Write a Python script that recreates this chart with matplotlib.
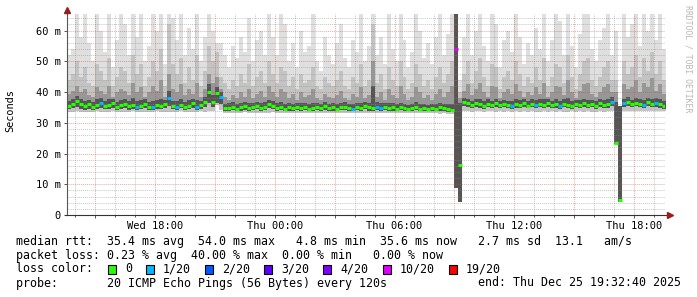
import numpy as np
import matplotlib
matplotlib.use('Agg')
import matplotlib.pyplot as plt
import matplotlib.dates as mdates
from matplotlib.ticker import MultipleLocator, FuncFormatter
from matplotlib.patches import Rectangle

plt.rcParams['font.family'] = ['DejaVu Sans Mono']

W, H = 697, 297

# time axis: 12 minute columns starting Wed 24 Dec 13:36
t_start = np.datetime64('2025-12-24T13:36:00')
t_end = np.datetime64('2025-12-25T19:32:40')
step_min = 12

# median rtt per column (ms)
median = [
    35.6, 36.2, 37.0, 36.1, 35.4, 36.0, 35.2, 35.9, 36.3, 35.5,
    35.8, 36.4, 35.3, 35.7, 36.0, 35.4, 35.9, 35.2, 35.6, 36.1,
    35.3, 35.0, 35.8, 35.4, 36.2, 38.0, 35.5, 35.1, 35.9, 35.3,
    35.6, 36.3, 35.0, 35.7, 36.8, 40.1, 36.8, 39.6, 38.5, 34.8,
    34.9, 35.2, 34.6, 35.0, 35.4, 34.8, 35.1, 35.5, 34.9, 35.3,
    36.0, 35.6, 34.9, 35.2, 34.6, 35.0, 34.7, 35.3, 34.8, 35.1,
    34.6, 34.9, 35.2, 34.7, 35.4, 34.8, 35.0, 34.5, 35.1, 35.3,
    34.9, 34.6, 35.2, 34.8, 35.5, 35.0, 34.7, 35.2, 34.9, 35.1,
    34.7, 35.0, 34.6, 35.1, 34.8, 34.5, 34.9, 35.2, 34.6, 34.8,
    34.5, 34.9, 34.6, 35.0, 34.7, 34.4, 34.3, 54.0, 16.3, 36.8,
    36.3, 35.8, 36.5, 36.0, 35.6, 36.2, 35.7, 36.4, 35.9, 36.1,
    35.7, 35.5, 36.0, 35.8, 36.3, 35.6, 36.1, 35.9, 36.2, 35.8,
    36.4, 35.7, 36.0, 35.6, 36.2, 35.9, 35.5, 36.1, 35.8, 36.3,
    35.9, 36.1, 35.6, 36.4, 35.8, 36.0, 36.8, 23.4, 4.9, 36.3,
    36.9, 36.0, 36.6, 36.2, 35.9, 36.7, 36.1, 36.5, 36.0, 35.6,
]

# smoke: lowest ping per column
ping_min = [
    33.6, 33.5, 33.7, 33.6, 33.4, 33.6, 33.5, 33.7, 33.6, 33.5,
    33.6, 33.7, 33.4, 33.6, 33.5, 33.6, 33.7, 33.5, 33.6, 33.4,
    33.6, 33.5, 33.7, 33.6, 33.5, 33.6, 33.4, 33.6, 33.7, 33.5,
    33.6, 33.5, 33.6, 33.7, 33.5, 33.8, 34.0, 35.8, 34.2, 33.2,
    33.3, 33.1, 33.3, 33.2, 33.4, 33.2, 33.3, 33.1, 33.2, 33.3,
    33.2, 33.4, 33.2, 33.1, 33.3, 33.2, 33.3, 33.2, 33.1, 33.3,
    33.2, 33.2, 33.3, 33.1, 33.2, 33.3, 33.2, 33.1, 33.3, 33.2,
    33.2, 33.3, 33.1, 33.2, 33.3, 33.2, 33.2, 33.1, 33.3, 33.2,
    33.1, 33.2, 33.3, 33.2, 33.1, 33.2, 33.2, 33.1, 33.3, 33.2,
    33.1, 33.2, 33.2, 33.0, 33.1, 33.0, 32.9, 8.8, 4.2, 33.8,
    33.7, 33.6, 33.8, 33.7, 33.6, 33.7, 33.8, 33.6, 33.7, 33.6,
    33.7, 33.5, 33.7, 33.6, 33.8, 33.6, 33.7, 33.5, 33.6, 33.7,
    33.6, 33.8, 33.6, 33.7, 33.5, 33.6, 33.7, 33.6, 33.8, 33.6,
    33.7, 33.5, 33.6, 33.7, 33.6, 33.8, 33.7, 23.0, 4.3, 33.9,
    33.8, 34.0, 33.8, 33.9, 33.7, 33.9, 33.8, 34.0, 33.8, 33.7,
]

# smoke: lower quartile-ish ping (bottom of the dark bands)
ping_low = [
    34.5, 34.7, 35.0, 34.6, 34.3, 34.6, 34.2, 34.6, 34.8, 34.4,
    34.6, 34.9, 34.3, 34.5, 34.7, 34.3, 34.6, 34.2, 34.5, 34.7,
    34.3, 34.2, 34.6, 34.4, 34.8, 35.5, 34.4, 34.2, 34.7, 34.3,
    34.5, 34.8, 34.2, 34.6, 35.2, 36.5, 35.2, 36.5, 36.0, 34.0,
    34.0, 34.2, 33.8, 34.0, 34.3, 33.9, 34.1, 34.4, 34.0, 34.2,
    34.8, 34.5, 34.0, 34.2, 33.8, 34.0, 33.9, 34.3, 33.9, 34.1,
    33.8, 34.0, 34.2, 33.8, 34.3, 33.9, 34.0, 33.7, 34.1, 34.2,
    34.0, 33.8, 34.2, 33.9, 34.4, 34.0, 33.8, 34.2, 34.0, 34.1,
    33.8, 34.0, 33.8, 34.1, 33.9, 33.7, 33.9, 34.1, 33.8, 33.9,
    33.7, 33.9, 33.8, 34.0, 33.8, 33.6, 33.5, 8.8, 4.2, 35.4,
    35.1, 34.8, 35.2, 34.9, 34.6, 35.0, 34.7, 35.1, 34.8, 35.0,
    34.7, 34.6, 34.9, 34.8, 35.1, 34.7, 35.0, 34.8, 35.1, 34.8,
    35.2, 34.7, 34.9, 34.6, 35.1, 34.8, 34.6, 35.0, 34.8, 35.1,
    34.8, 35.0, 34.6, 35.2, 34.8, 34.9, 35.4, 23.0, 4.3, 35.2,
    35.6, 35.0, 35.4, 35.1, 34.9, 35.5, 35.0, 35.3, 34.9, 34.6,
]

ping_p60 = [
    37.2, 37.8, 38.6, 37.6, 37.0, 37.5, 36.8, 37.6, 38.0, 37.1,
    37.6, 37.9, 36.9, 37.4, 37.7, 37.0, 38.2, 37.0, 37.4, 37.6,
    36.9, 37.0, 37.4, 37.8, 37.5, 40.5, 37.2, 37.0, 37.9, 36.9,
    37.4, 37.8, 37.3, 37.2, 38.4, 42.5, 39.0, 41.5, 40.0, 36.2,
    36.3, 36.7, 36.0, 36.5, 36.8, 36.6, 36.4, 36.9, 36.5, 36.7,
    37.5, 37.2, 36.3, 36.8, 36.2, 36.3, 36.2, 36.6, 36.4, 36.5,
    36.0, 36.6, 36.5, 36.0, 36.8, 36.2, 36.3, 36.0, 36.6, 36.7,
    36.2, 36.2, 36.6, 36.5, 36.8, 36.3, 42.0, 36.8, 36.5, 36.4,
    36.3, 36.4, 36.0, 36.6, 36.1, 35.9, 36.2, 36.7, 36.0, 36.1,
    35.9, 36.2, 36.0, 36.5, 36.1, 36.0, 36.2, 66.0, 36.5, 38.2,
    37.9, 37.2, 37.9, 37.6, 37.1, 37.6, 37.2, 37.9, 37.2, 37.5,
    37.2, 37.0, 37.6, 37.3, 37.7, 37.0, 37.6, 37.4, 37.6, 37.6,
    37.8, 37.1, 37.6, 37.2, 37.6, 38.0, 37.0, 37.5, 37.3, 37.9,
    37.5, 37.5, 37.0, 37.9, 37.3, 37.6, 38.4, 36.8, 35.5, 37.9,
    38.4, 37.5, 38.1, 37.6, 37.4, 38.2, 37.6, 38.0, 37.6, 37.1,
]

ping_p75 = [
    39.5, 40.5, 42, 40, 41, 39, 38.5, 41.5, 40.5, 39.5,
    42, 38.5, 40, 41, 40.5, 39, 43, 40, 41.5, 38.5,
    40, 42, 40.5, 44, 38.5, 46, 41, 40, 42.5, 39,
    41, 39.5, 43, 38.5, 41, 46, 43, 45, 41, 38.5,
    37.5, 39, 38, 40, 38.5, 41, 38, 39.5, 40.5, 38.5,
    42, 40, 38.5, 41, 40, 38, 39.5, 37.5, 40, 38.5,
    39, 41, 38, 37.5, 39.5, 38.5, 38, 39, 40.5, 38,
    37.5, 39.5, 38.5, 41.5, 38, 39, 50, 38.5, 40, 37.5,
    41, 39, 38, 42, 39.5, 37.5, 38.5, 41.5, 40, 38,
    39, 37.5, 39.5, 41, 38.5, 40, 42, 66, 38, 40.5,
    42.5, 39, 41, 43, 40, 38.5, 42, 41.5, 38, 40,
    41, 39.5, 42.5, 40.5, 38.5, 40, 39, 41.5, 39.5, 43,
    38.5, 40, 42, 41.5, 39, 44, 40, 38, 40.5, 42.5,
    43, 39.5, 38.5, 40, 41.5, 42.5, 40, 40, 35.5, 42.5,
    41, 41.5, 44, 40, 43, 41.5, 44.5, 40.5, 42.5, 39.5,
]

ping_p90 = [
    44, 46, 50, 45, 48, 43, 42, 49, 47, 44,
    51, 42, 45, 48, 47, 43, 52, 46, 49, 42,
    45, 50, 47, 54, 42, 62, 49, 46, 51, 43,
    48, 44, 52, 42, 47, 55, 50, 53, 45, 43,
    41, 44, 42, 46, 43, 49, 42, 45, 47, 43,
    50, 46, 43, 48, 47, 42, 45, 41, 46, 43,
    44, 48, 42, 41, 45, 43, 42, 44, 47, 42,
    41, 45, 43, 49, 42, 44, 62, 43, 46, 41,
    48, 44, 42, 50, 45, 41, 43, 49, 46, 42,
    44, 41, 45, 48, 43, 46, 50, 66, 40, 46,
    50, 43, 47, 51, 45, 42, 49, 48, 41, 45,
    47, 44, 50, 46, 42, 45, 43, 48, 44, 51,
    42, 45, 49, 48, 43, 52, 45, 41, 46, 50,
    51, 44, 42, 45, 48, 50, 44, 44, 35.5, 50,
    46, 48, 52, 45, 51, 47, 53, 46, 50, 44,
]

ping_max = [
    52, 54, 66, 58, 66, 56, 50, 66, 60, 53,
    66, 48, 57, 66, 62, 52, 66, 58, 66, 50,
    55, 66, 60, 66, 49, 66, 64, 57, 66, 52,
    61, 54, 66, 50, 58, 66, 60, 56, 56, 52,
    48, 55, 51, 58, 53, 64, 50, 57, 60, 52,
    66, 58, 52, 66, 62, 50, 56, 48, 60, 53,
    55, 66, 50, 47, 58, 52, 49, 56, 62, 51,
    48, 57, 53, 66, 50, 55, 66, 52, 58, 49,
    66, 54, 50, 66, 57, 48, 53, 66, 60, 51,
    56, 49, 58, 66, 52, 59, 66, 66, 44, 58,
    66, 52, 60, 66, 55, 50, 66, 62, 48, 57,
    60, 53, 66, 58, 49, 56, 52, 61, 54, 66,
    50, 57, 66, 63, 52, 66, 55, 48, 59, 66,
    66, 54, 50, 57, 61, 66, 52, 60, 35.5, 66,
    58, 62, 66, 55, 66, 60, 66, 57, 66, 54,
]

# columns with packet loss (index into loss_labels), all others are 0
loss_cols = [8, 17, 21, 25, 27, 32, 38, 71, 77, 78, 97, 111, 117, 123, 136, 139, 144, 147]
loss_level = [1, 1, 1, 1, 1, 1, 1, 1, 1, 1, 5, 1, 1, 1, 1, 1, 1, 1]

loss_labels = ['0', '1/20', '2/20', '3/20', '4/20', '10/20', '19/20']
loss_colors = ['#26ff00', '#00b8ff', '#0059ff', '#5e00ff', '#7e00ff', '#dd00ff', '#ff0000']

legend_rtt = 'median rtt:  35.4 ms avg  54.0 ms max   4.8 ms min  35.6 ms now   2.7 ms sd  13.1   am/s'
legend_loss = 'packet loss: 0.23 % avg  40.00 % max  0.00 % min   0.00 % now'
legend_probe = 'probe:       20 ICMP Echo Pings (56 Bytes) every 120s'
legend_end = 'end: Thu Dec 25 19:32:40 2025'

n = len(median)
edges = t_start + np.arange(n + 1) * np.timedelta64(step_min, 'm')
xe = mdates.date2num(edges)


def ext(a):
    a = np.asarray(a, dtype=float)
    return np.append(a, a[-1])


def fx(px):
    return px / W


def fy(py):
    return 1 - py / H


fig = plt.figure(figsize=(W / 100, H / 100), dpi=100)
fig.patch.set_facecolor('white')
ax = fig.add_axes([fx(67), fy(215), 598 / W, 201 / H])

# smoke bands, light to dark
ax.fill_between(xe, ext(ping_min), ext(ping_max), step='post', color='#dfdfdf', lw=0, zorder=1)
ax.fill_between(xe, ext(ping_min), ext(ping_p90), step='post', color='#c3c3c3', lw=0, zorder=1.1)
ax.fill_between(xe, ext(ping_low), ext(ping_p75), step='post', color='#979797', lw=0, zorder=1.2)
ax.fill_between(xe, ext(ping_low), ext(ping_p60), step='post', color='#555555', lw=0, zorder=1.3)

# median, coloured by loss
col_idx = np.zeros(n, dtype=int)
col_idx[loss_cols] = loss_level
ax.hlines(median, xe[:-1], xe[1:], colors=[loss_colors[i] for i in col_idx], lw=2.2, zorder=6)

ax.set_xlim(mdates.date2num(t_start), mdates.date2num(t_end))
ax.set_ylim(0, 65.4)

# grid
ax.yaxis.set_major_locator(MultipleLocator(10))
ax.yaxis.set_minor_locator(MultipleLocator(2))
ax.yaxis.set_major_formatter(FuncFormatter(lambda v, p: '0' if v == 0 else '%d m' % v))
ax.xaxis.set_major_locator(mdates.HourLocator(byhour=range(0, 24, 3)))
ax.xaxis.set_minor_locator(mdates.HourLocator())


def xlabel(v, p):
    mins = int(round(v * 1440)) % 1440
    if mins % 360 == 0:
        return mdates.num2date(v + 1e-6).strftime('%a %H:%M')
    return ''


ax.xaxis.set_major_formatter(FuncFormatter(xlabel))
ax.set_axisbelow(False)
ax.grid(which='minor', color='#909090', alpha=0.5, lw=0.7, ls=(0, (1, 1)))
ax.grid(which='major', color='#d04040', alpha=0.45, lw=0.7, ls=(0, (1, 1)))

for s in ax.spines.values():
    s.set_visible(False)
ax.tick_params(axis='both', which='major', length=2, width=0.7, color='#555555',
               labelsize=7.5, pad=2.5)
ax.tick_params(axis='y', which='minor', length=0)
ax.tick_params(axis='x', which='minor', length=1.5, width=0.7, color='#555555')
ax.tick_params(axis='x', which='major', pad=2)

# axis lines with arrows
ax.plot([0, 0], [0, 1.012], transform=ax.transAxes, clip_on=False, color='#555555', lw=0.8, zorder=7)
ax.plot([-0.003, 1.005], [0, 0], transform=ax.transAxes, clip_on=False, color='#333333', lw=0.8, zorder=7)
ax.plot([0], [1.018], marker='^', ms=4, color='#9b1c1c', transform=ax.transAxes, clip_on=False, zorder=8)
ax.plot([1.009], [0], marker='>', ms=4, color='#9b1c1c', transform=ax.transAxes, clip_on=False, zorder=8)

fig.text(fx(10), fy(111), 'Seconds', rotation=90, ha='center', va='center', fontsize=7.4)
fig.text(fx(688), fy(5), 'RRDTOOL / TOBI OETIKER', rotation=270, ha='center', va='top',
         fontsize=5.9, color='#b8b8b8')

# legend
fs = 8.4
cw = fs * 100 / 72 * 0.602
fig.text(fx(16), fy(241), legend_rtt, fontsize=fs, va='center')
fig.text(fx(16), fy(255), legend_loss, fontsize=fs, va='center')
fig.text(fx(16), fy(269), 'loss color:', fontsize=fs, va='center')
xb = 108
for lab, c in zip(loss_labels, loss_colors):
    fig.patches.append(Rectangle((fx(xb), fy(273.5)), 8 / W, 9 / H, transform=fig.transFigure,
                                 facecolor=c, edgecolor='black', lw=0.8))
    fig.text(fx(xb + 17), fy(269), lab, fontsize=fs, va='center')
    xb = xb + 17 + len(lab) * cw + 2 * cw
fig.text(fx(16), fy(283), legend_probe, fontsize=fs, va='center')
fig.text(fx(681), fy(283), legend_end, fontsize=fs, va='center', ha='right')

fig.savefig('out.png', dpi=100, facecolor='white')
